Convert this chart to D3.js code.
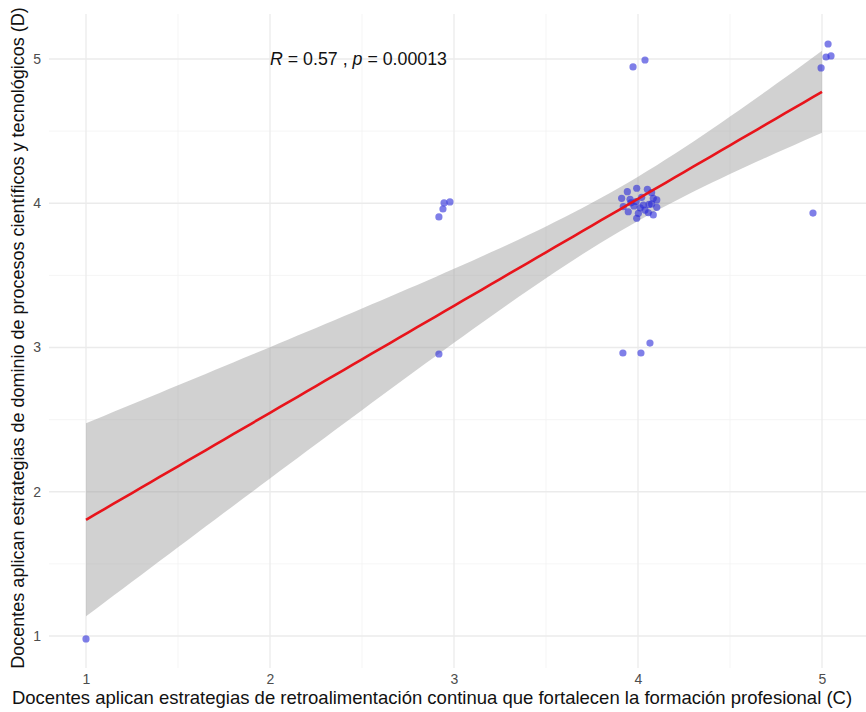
<!DOCTYPE html>
<html>
<head>
<meta charset="utf-8">
<script src="https://cdn.jsdelivr.net/npm/d3@7"></script>
<style>
  body { margin: 0; background: #fff; }
  svg text { font-family: "Liberation Sans", Arial, sans-serif; }
</style>
</head>
<body>
<div id="chart"></div>
<script>
/* ---------------------- Data ---------------------- */
// jittered positions as drawn (Likert answers, C on x, D on y)
var pointX = [1.00, 2.978, 2.946, 2.940, 2.918, 2.918, 3.918, 4.016, 4.065, 4.038, 3.973,
    5.033, 5.049, 5.022, 4.995, 4.951,
    3.942, 3.993, 4.051, 4.074, 3.911, 3.957, 4.020, 4.083, 4.102, 3.920,
    3.978, 4.029, 4.074, 4.102, 3.947, 4.002, 4.056, 4.083, 3.993, 4.038,
    3.990, 4.060, 3.962, 4.012];
var pointY = [0.98, 4.009, 4.002, 3.960, 3.905, 2.955, 2.962, 2.962, 3.031, 4.993, 4.945,
    5.104, 5.021, 5.014, 4.938, 3.932,
    4.080, 4.104, 4.097, 4.073, 4.034, 4.027, 4.041, 4.034, 4.023, 3.976,
    3.981, 3.988, 3.995, 3.972, 3.941, 3.930, 3.934, 3.919, 3.896, 3.953,
    4.012, 3.992, 4.003, 3.968];

var xTicks = [1, 2, 3, 4, 5];
var yTicks = [1, 2, 3, 4, 5];
var xMinor = [1.5, 2.5, 3.5, 4.5];
var yMinor = [1.5, 2.5, 3.5, 4.5];

var corLabel = {R: "0.57", p: "0.00013", x: 2, y: 5};

var xTitle = "Docentes aplican estrategias de retroalimentación continua que fortalecen la formación profesional (C)";
var yTitle = "Docentes aplican estrategias de dominio de procesos científicos y tecnológicos (D)";

/* ---------------------- Layout ---------------------- */
var W = 866, H = 712;
var panel = {left: 49, right: 866, top: 14, bottom: 668};

var svg = d3.select("#chart").append("svg")
    .attr("width", W)
    .attr("height", H);

var xScale = d3.scaleLinear().domain([1, 5]).range([86, 822]);
var yScale = d3.scaleLinear().domain([1, 5]).range([636, 59]);

/* ---------------------- Grid ---------------------- */
var grid = svg.append("g");

grid.selectAll(".xminor").data(xMinor).enter().append("line")
    .attr("x1", d => xScale(d)).attr("x2", d => xScale(d))
    .attr("y1", panel.top).attr("y2", panel.bottom)
    .attr("stroke", "#f2f2f2").attr("stroke-width", 0.8);
grid.selectAll(".yminor").data(yMinor).enter().append("line")
    .attr("y1", d => yScale(d)).attr("y2", d => yScale(d))
    .attr("x1", panel.left).attr("x2", panel.right)
    .attr("stroke", "#f2f2f2").attr("stroke-width", 0.8);
grid.selectAll(".xmajor").data(xTicks).enter().append("line")
    .attr("x1", d => xScale(d)).attr("x2", d => xScale(d))
    .attr("y1", panel.top).attr("y2", panel.bottom)
    .attr("stroke", "#ebebeb").attr("stroke-width", 1.3);
grid.selectAll(".ymajor").data(yTicks).enter().append("line")
    .attr("y1", d => yScale(d)).attr("y2", d => yScale(d))
    .attr("x1", panel.left).attr("x2", panel.right)
    .attr("stroke", "#ebebeb").attr("stroke-width", 1.3);

/* ---------------------- Linear fit (on raw answers) ---------------------- */
var raw = pointX.map((x, i) => ({x: Math.round(x), y: Math.round(pointY[i])}));
var n = raw.length;
var mx = d3.mean(raw, d => d.x), my = d3.mean(raw, d => d.y);
var sxx = d3.sum(raw, d => (d.x - mx) * (d.x - mx));
var sxy = d3.sum(raw, d => (d.x - mx) * (d.y - my));
var slope = sxy / sxx, intercept = my - slope * mx;
var rss = d3.sum(raw, d => Math.pow(d.y - (intercept + slope * d.x), 2));
var s = Math.sqrt(rss / (n - 2));
var tCrit = 2.024; // qt(0.975, 38)

var xMin = d3.min(raw, d => d.x), xMax = d3.max(raw, d => d.x);
var fit = d3.range(0, 81).map(i => {
    var x = xMin + (xMax - xMin) * i / 80;
    var f = intercept + slope * x;
    var se = s * Math.sqrt(1 / n + (x - mx) * (x - mx) / sxx);
    return {x: x, y: f, lo: f - tCrit * se, hi: f + tCrit * se};
});

svg.append("path")
    .datum(fit)
    .attr("d", d3.area().x(d => xScale(d.x)).y0(d => yScale(d.lo)).y1(d => yScale(d.hi)))
    .attr("fill", "#999999")
    .attr("fill-opacity", 0.45);

/* ---------------------- Points ---------------------- */
svg.append("g").selectAll("circle")
    .data(pointX.map((x, i) => ({x: x, y: pointY[i]})))
    .enter().append("circle")
    .attr("cx", d => xScale(d.x))
    .attr("cy", d => yScale(d.y))
    .attr("r", 3.6)
    .attr("fill", "#2a2ad8")
    .attr("fill-opacity", 0.6);

svg.append("path")
    .datum(fit)
    .attr("d", d3.line().x(d => xScale(d.x)).y(d => yScale(d.y)))
    .attr("fill", "none")
    .attr("stroke", "#e8141b")
    .attr("stroke-width", 2.6);

/* ---------------------- Axes ---------------------- */
var xAxis = d3.axisBottom(xScale).tickValues(xTicks).tickSize(0).tickPadding(0).tickFormat(d3.format("d"));
var gx = svg.append("g")
    .attr("transform", `translate(0, ${panel.bottom + 6})`)
    .call(xAxis);
gx.select(".domain").remove();
gx.selectAll("text").attr("font-size", 14).attr("fill", "#4d4d4d").attr("dy", "0.71em")
    .style("font-family", "'Liberation Sans', Arial, sans-serif");

var yAxis = d3.axisLeft(yScale).tickValues(yTicks).tickSize(0).tickPadding(0).tickFormat(d3.format("d"));
var gy = svg.append("g")
    .attr("transform", `translate(${panel.left - 8}, 0)`)
    .call(yAxis);
gy.select(".domain").remove();
gy.selectAll("text").attr("font-size", 14).attr("fill", "#4d4d4d")
    .style("font-family", "'Liberation Sans', Arial, sans-serif");

// titles
svg.append("text")
    .attr("x", 432)
    .attr("y", 704)
    .attr("text-anchor", "middle")
    .attr("font-size", 18.5)
    .attr("fill", "#111")
    .text(xTitle);

svg.append("text")
    .attr("transform", `translate(24, ${(panel.top + panel.bottom) / 2 - 3}) rotate(-90)`)
    .attr("text-anchor", "middle")
    .attr("font-size", 18)
    .attr("fill", "#111")
    .text(yTitle);

// correlation label
var lab = svg.append("text")
    .attr("x", xScale(corLabel.x))
    .attr("y", yScale(corLabel.y))
    .attr("dy", "0.36em")
    .attr("font-size", 17.8)
    .attr("fill", "#111");
lab.append("tspan").attr("font-style", "italic").text("R");
lab.append("tspan").text(" = " + corLabel.R + " , ");
lab.append("tspan").attr("font-style", "italic").text("p");
lab.append("tspan").text(" = " + corLabel.p);
</script>
</body>
</html>
